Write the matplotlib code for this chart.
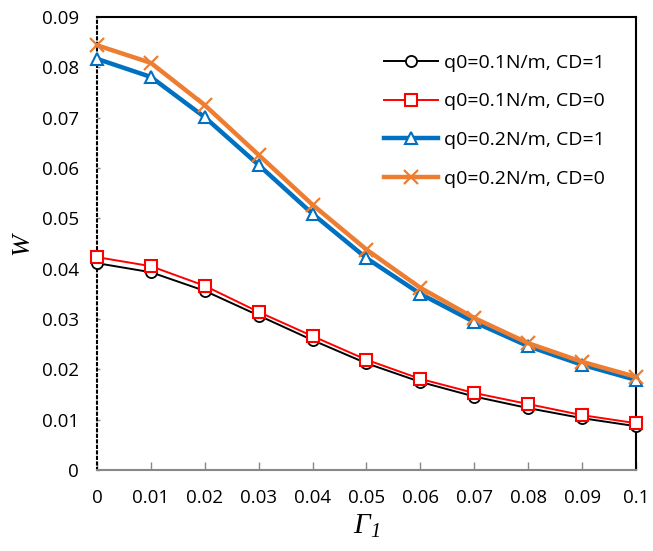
import matplotlib
matplotlib.use("Agg")
import matplotlib.pyplot as plt

# data
gamma1 = [0, 0.01, 0.02, 0.03, 0.04, 0.05, 0.06, 0.07, 0.08, 0.09, 0.1]
w_q01_cd1 = [0.0411, 0.0393, 0.0356, 0.0307, 0.0258, 0.0212, 0.0175, 0.0146, 0.0123, 0.0103, 0.0087]
w_q01_cd0 = [0.0423, 0.0405, 0.0366, 0.0314, 0.0266, 0.0219, 0.0181, 0.0153, 0.0131, 0.0109, 0.0093]
w_q02_cd1 = [0.0817, 0.0781, 0.0701, 0.0606, 0.0509, 0.0421, 0.0350, 0.0294, 0.0246, 0.0209, 0.0179]
w_q02_cd0 = [0.0844, 0.0809, 0.0725, 0.0626, 0.0527, 0.0438, 0.0362, 0.0302, 0.0252, 0.0215, 0.0185]
labels = ['q0=0.1N/m, CD=1', 'q0=0.1N/m, CD=0', 'q0=0.2N/m, CD=1', 'q0=0.2N/m, CD=0']
x_ticks = [0, 0.01, 0.02, 0.03, 0.04, 0.05, 0.06, 0.07, 0.08, 0.09, 0.1]
x_ticklabels = ['0', '0.01', '0.02', '0.03', '0.04', '0.05', '0.06', '0.07', '0.08', '0.09', '0.1']
y_ticks = [0, 0.01, 0.02, 0.03, 0.04, 0.05, 0.06, 0.07, 0.08, 0.09]
y_ticklabels = ['0', '0.01', '0.02', '0.03', '0.04', '0.05', '0.06', '0.07', '0.08', '0.09']

plt.rcParams['font.family'] = ['Open Sans', 'DejaVu Sans']
plt.rcParams['mathtext.fontset'] = 'custom'
plt.rcParams['mathtext.rm'] = 'Liberation Serif:italic'
plt.rcParams['mathtext.it'] = 'Liberation Serif:italic'

fig = plt.figure(figsize=(6.53, 5.51), dpi=100)
ax = fig.add_axes([0.1485, 0.147, 0.8255, 0.822])

ax.plot(gamma1, w_q01_cd1, color='black', lw=1.4, marker='o', ms=8,
        mfc='white', mec='black', mew=1.3, label=labels[0], clip_on=False, zorder=3)
ax.plot(gamma1, w_q01_cd0, color='#FF0000', lw=1.4, marker='s', ms=9,
        mfc='white', mec='#FF0000', mew=1.5, label=labels[1], clip_on=False, zorder=4)
ax.plot(gamma1, w_q02_cd1, color='#0070C0', lw=3.2, marker='^', ms=9,
        mfc='white', mec='#0070C0', mew=1.5, label=labels[2], clip_on=False, zorder=5)
ax.plot(gamma1, w_q02_cd0, color='#ED7D31', lw=3.2, marker='x', ms=10,
        mec='#ED7D31', mew=1.6, label=labels[3], clip_on=False, zorder=6)

ax.set_xlim(0, 0.1)
ax.set_ylim(0, 0.09)
ax.set_xticks(x_ticks)
ax.set_xticklabels(x_ticklabels, fontsize=13.5)
ax.set_yticks(y_ticks)
ax.set_yticklabels(y_ticklabels, fontsize=13.5)
ax.tick_params(axis='x', direction='in', length=6, width=1, color='#888888', pad=14)
ax.tick_params(axis='y', direction='in', length=2, width=1, color='#888888', pad=13)

ax.spines['left'].set_linestyle(':')
ax.spines['left'].set_linewidth(1.5)
ax.spines['bottom'].set_color('#888888')
ax.spines['bottom'].set_linewidth(1.5)
ax.spines['top'].set_linewidth(1.5)
ax.spines['right'].set_linewidth(1.5)

ax.set_xlabel('Γ$_{1}$', fontsize=21, family='Liberation Serif',
              fontstyle='italic', labelpad=4)
ax.set_ylabel('W', fontsize=19, family='Liberation Serif',
              fontstyle='italic', labelpad=6)

leg = ax.legend(loc='upper right', bbox_to_anchor=(0.975, 0.958), frameon=False,
                fontsize=14, handlelength=2.8, labelspacing=1.07, handletextpad=0.3)

fig.savefig('out.png', dpi=100)
